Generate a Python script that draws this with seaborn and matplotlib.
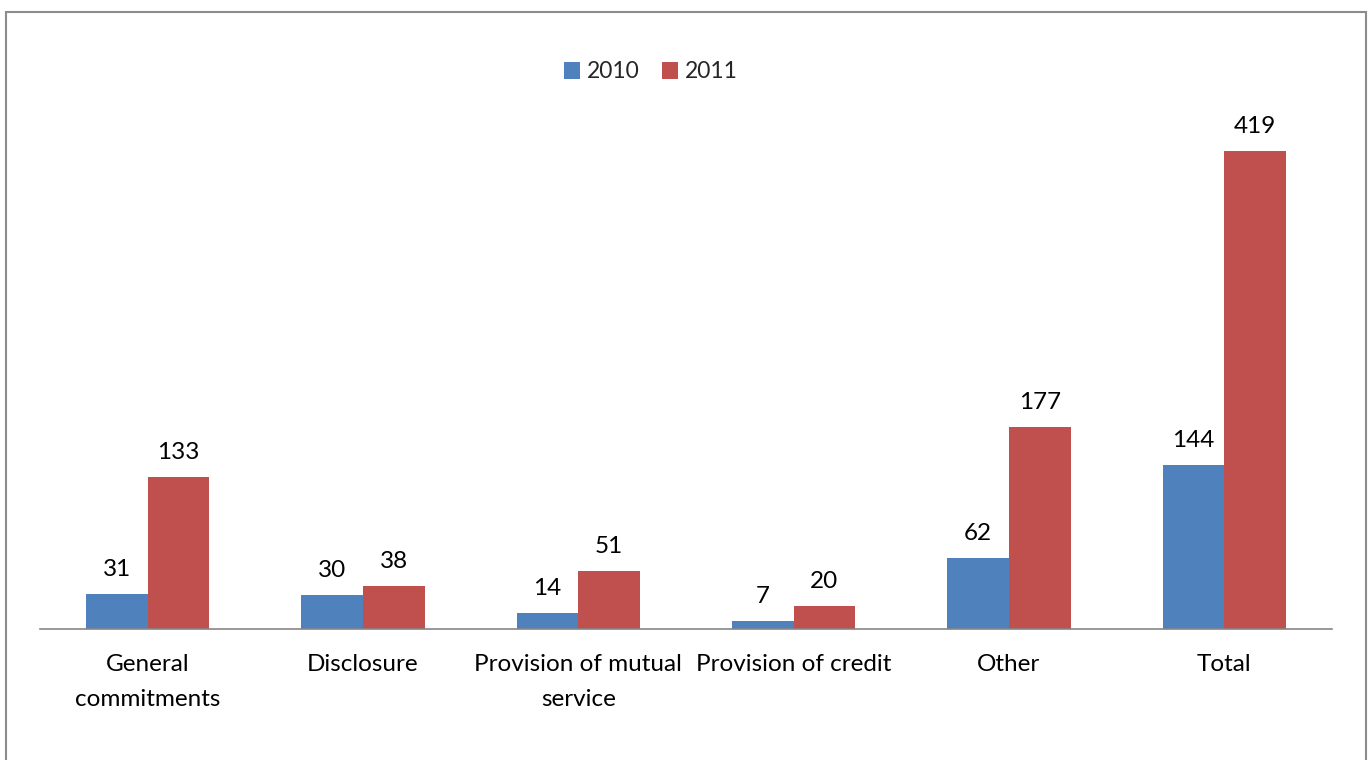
import matplotlib
matplotlib.use("Agg")
import matplotlib.pyplot as plt
import seaborn as sns
import pandas as pd
from matplotlib.patches import Rectangle, Patch

categories = ["General\ncommitments", "Disclosure", "Provision of mutual\nservice",
              "Provision of credit", "Other", "Total"]
years = ["2010", "2011"]
values_2010 = [31, 30, 14, 7, 62, 144]
values_2011 = [133, 38, 51, 20, 177, 419]
colors = ["#4F81BD", "#C0504D"]

df = pd.DataFrame({
    "category": categories * 2,
    "year": [years[0]] * len(categories) + [years[1]] * len(categories),
    "value": values_2010 + values_2011,
})

sns.set_theme(style="white")
plt.rcParams['font.family'] = ['Lato', 'DejaVu Sans']

W, H = 1368, 760
fig = plt.figure(figsize=(W / 100, H / 100), dpi=100)
ax_left, ax_right = 40, 1332
base_y = 629
ppu = (629 - 151) / 419.0
ymax = 450
top_y = base_y - ymax * ppu
ax = fig.add_axes([ax_left / W, 1 - base_y / H, (ax_right - ax_left) / W, (base_y - top_y) / H])

sns.barplot(data=df, x="category", y="value", hue="year", palette=colors,
            width=0.572, ax=ax, saturation=1, legend=False, edgecolor="none")

for cont in ax.containers:
    ax.bar_label(cont, padding=10, fontsize=17.5, color="#000000")

ax.set_ylim(0, ymax)
ax.set_xlim(-0.5, len(categories) - 0.5)
ax.set_xlabel("")
ax.set_ylabel("")
ax.set_yticks([])
ax.tick_params(axis="x", length=0, pad=18, labelsize=17.5, colors="#000000")
for lbl in ax.get_xticklabels():
    lbl.set_linespacing(1.8)
for s in ["top", "right", "left"]:
    ax.spines[s].set_visible(False)
ax.spines["bottom"].set_color("#868686")
ax.spines["bottom"].set_linewidth(1.2)
ax.set_facecolor("none")

handles = [Patch(facecolor=c, edgecolor="none") for c in colors]
fig.legend(handles, years, loc="center", bbox_to_anchor=(651 / W, 1 - 72 / H),
           ncol=2, frameon=False, fontsize=16.5, handlelength=0.7, handleheight=0.7,
           handletextpad=0.3, columnspacing=1.0)

fig.patches.append(Rectangle((6 / W, -0.05), (1366 - 6) / W, 1.05 - 12 / H,
                             transform=fig.transFigure, fill=False,
                             edgecolor="#8C8C8C", linewidth=1.5))

fig.savefig("out.png", dpi=100)
